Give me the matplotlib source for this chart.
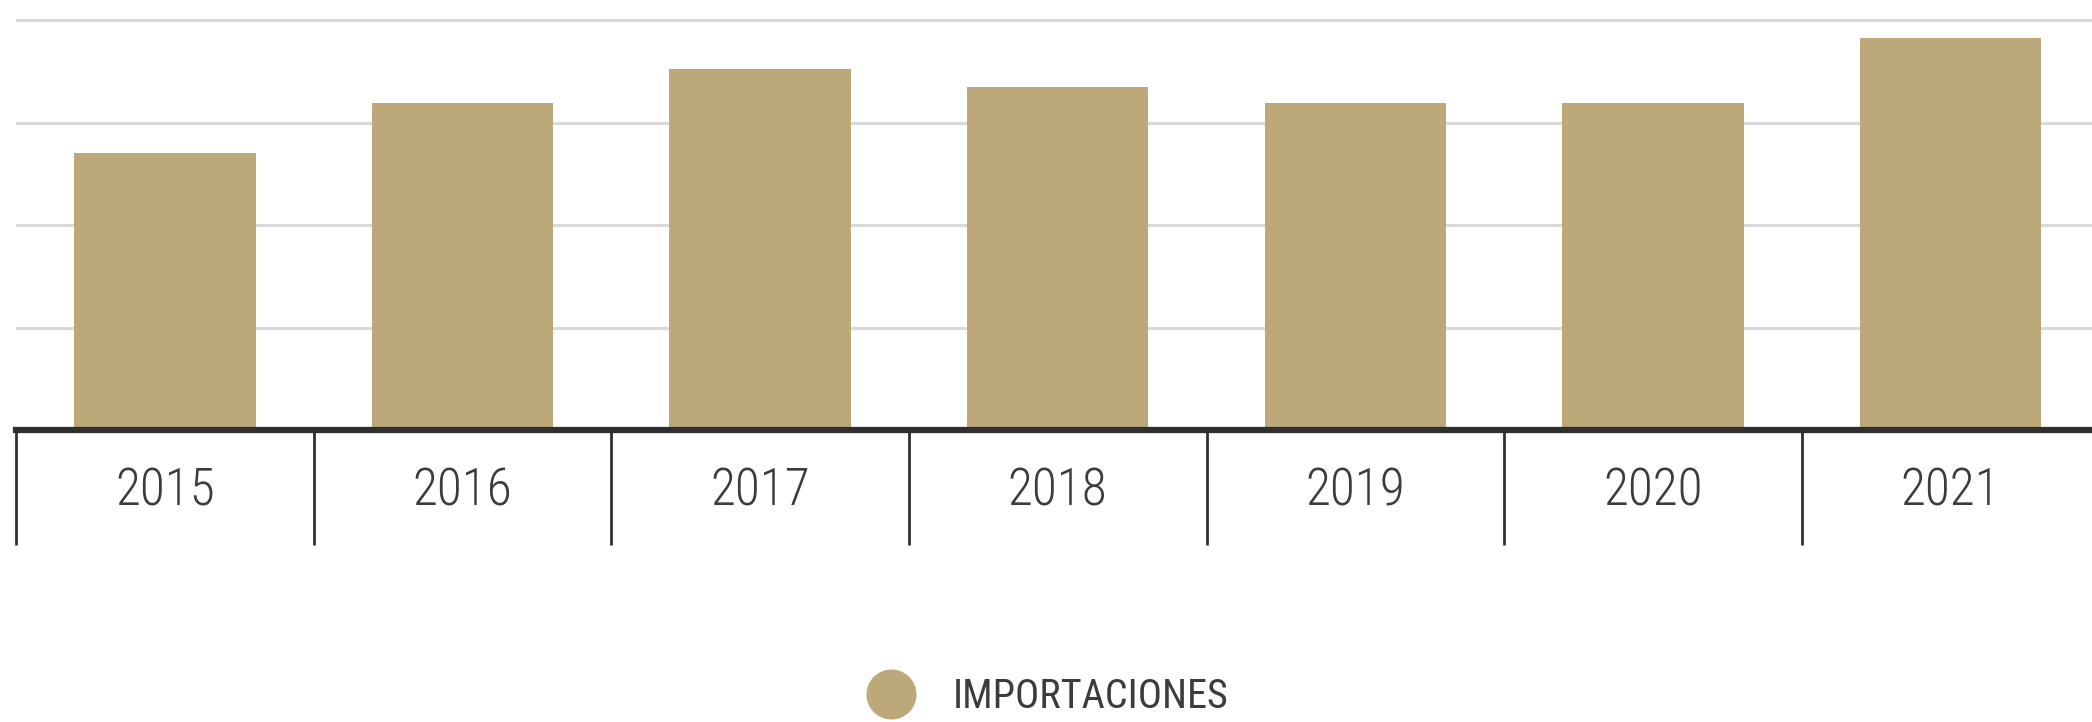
import numpy as np
import matplotlib.pyplot as plt
from matplotlib import font_manager
from matplotlib.lines import Line2D

years = ['2015', '2016', '2017', '2018', '2019', '2020', '2021']
importaciones = [2.70, 3.19, 3.52, 3.35, 3.19, 3.19, 3.83]
legend_label = 'IMPORTACIONES'

bar_color = '#bca878'
axis_color = '#2f2f2f'
text_color = '#3c3c3c'

# pick a narrow face if one is around, the original uses a condensed font
names = {f.name for f in font_manager.fontManager.ttflist}
narrow = None
for cand in ['Roboto Condensed', 'Liberation Sans Narrow', 'DejaVu Sans Condensed', 'Open Sans Condensed']:
    if cand in names:
        narrow = cand
        break
fam = [narrow, 'DejaVu Sans'] if narrow else ['DejaVu Sans']
stretch = 'normal' if narrow else 'condensed'

fig = plt.figure(figsize=(20.92, 7.22), dpi=100)
ax = fig.add_axes([16 / 2092, 1 - 430 / 722, 1 - 16 / 2092, 415 / 722])

x = np.arange(len(years))
ax.bar(x, importaciones, width=0.61, color=bar_color, zorder=2)

ax.set_xlim(-0.5, 6.475)
ax.set_ylim(0, 4.05)
ax.set_yticks([1, 2, 3, 4])
ax.yaxis.grid(True, color='#d9d9d9', linewidth=2.2, zorder=0)
ax.set_axisbelow(True)
ax.tick_params(axis='y', left=False, labelleft=False)

for s in ['top', 'left', 'right']:
    ax.spines[s].set_visible(False)
ax.spines['bottom'].set_color(axis_color)
ax.spines['bottom'].set_linewidth(4.5)
ax.spines['bottom'].set_zorder(3)

# labels sit at the centres, the long ticks between categories
ax.set_xticks(x)
ax.set_xticklabels(years, family=fam, stretch=stretch, fontsize=37,
                   color=text_color, fontweight='light')
ax.tick_params(axis='x', which='major', length=0, pad=26)
ax.set_xticks(x - 0.5, minor=True)
ax.tick_params(axis='x', which='minor', length=83, width=2, color=axis_color)

handle = Line2D([], [], marker='o', linestyle='', markersize=35,
                markerfacecolor=bar_color, markeredgecolor=bar_color)
fig.legend(handles=[handle], labels=[legend_label], loc='center',
           bbox_to_anchor=(0.497, 1 - 697 / 722), frameon=False,
           prop={'family': fam, 'stretch': stretch, 'size': 29},
           labelcolor=text_color, handletextpad=0.55)

fig.savefig('out.png', dpi=100, facecolor='white')
